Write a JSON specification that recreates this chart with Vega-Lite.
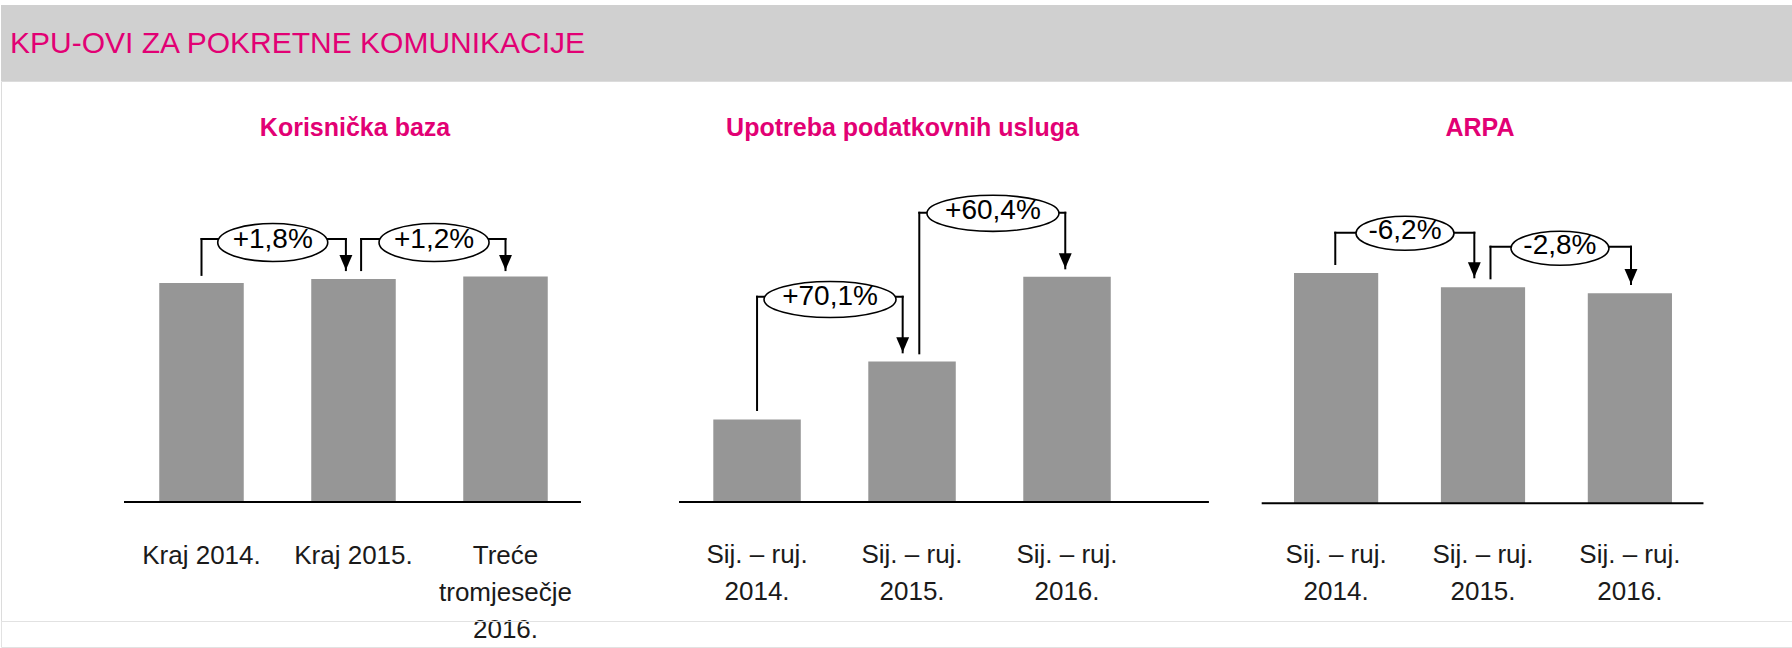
{
  "$schema": "https://vega.github.io/schema/vega-lite/v6.json",
  "padding": {"top": 5, "left": 0, "right": 0, "bottom": 0},
  "background": "white",
  "bounds": "flush",
  "spacing": 0,
  "config": {"font": "Liberation Sans", "view": {"stroke": null}},
  "datasets": {
    "bars": [
      {"panel": 1, "cat": "Kraj 2014.", "value": 100},
      {"panel": 1, "cat": "Kraj 2015.", "value": 101.8},
      {"panel": 1, "cat": "Treće\ntromjesečje\n2016.", "value": 103.0},
      {"panel": 2, "cat": "Sij. – ruj.\n2014.", "value": 100},
      {"panel": 2, "cat": "Sij. – ruj.\n2015.", "value": 170.1},
      {"panel": 2, "cat": "Sij. – ruj.\n2016.", "value": 272.8},
      {"panel": 3, "cat": "Sij. – ruj.\n2014.", "value": 100},
      {"panel": 3, "cat": "Sij. – ruj.\n2015.", "value": 93.8},
      {"panel": 3, "cat": "Sij. – ruj.\n2016.", "value": 91.2}
    ],
    "heads": [
      {"panel": 1, "at": "Kraj 2015.", "first": "Kraj 2014.", "last": "Treće\ntromjesečje\n2016.", "title": "Korisnička baza"},
      {"panel": 2, "at": "Sij. – ruj.\n2015.", "first": "Sij. – ruj.\n2014.", "last": "Sij. – ruj.\n2016.", "title": "Upotreba podatkovnih usluga"},
      {"panel": 3, "at": "Sij. – ruj.\n2015.", "first": "Sij. – ruj.\n2014.", "last": "Sij. – ruj.\n2016.", "title": "ARPA"}
    ],
    "notes": [
      {"panel": 1, "id": 1, "from": "Kraj 2014.", "to": "Kraj 2015.", "pct": "+1,8%", "start": 103.7, "level": 120.1, "end": 105.9, "center": 118.5},
      {"panel": 1, "id": 2, "from": "Kraj 2015.", "to": "Treće\ntromjesečje\n2016.", "pct": "+1,2%", "start": 105.9, "level": 120.1, "end": 105.9, "center": 118.5},
      {"panel": 2, "id": 1, "from": "Sij. – ruj.\n2014.", "to": "Sij. – ruj.\n2015.", "pct": "+70,1%", "start": 111.4, "level": 248.5, "end": 181.2, "center": 245.2},
      {"panel": 2, "id": 2, "from": "Sij. – ruj.\n2015.", "to": "Sij. – ruj.\n2016.", "pct": "+60,4%", "start": 180.0, "level": 350.2, "end": 282.9, "center": 349.5},
      {"panel": 3, "id": 1, "from": "Sij. – ruj.\n2014.", "to": "Sij. – ruj.\n2015.", "pct": "-6,2%", "start": 103.95, "level": 117.55, "end": 98.18, "center": 117.29},
      {"panel": 3, "id": 2, "from": "Sij. – ruj.\n2015.", "to": "Sij. – ruj.\n2016.", "pct": "-2,8%", "start": 97.74, "level": 111.47, "end": 95.26, "center": 110.77}
    ]
  },
  "vconcat": [
    {
      "width": 1792,
      "height": 76,
      "view": {"fill": "#d0d0d0", "stroke": null},
      "data": {"values": [{}]},
      "mark": {"type": "rect", "color": "#d0d0d0"},
      "title": {"text": "KPU-OVI ZA POKRETNE KOMUNIKACIJE", "anchor": "start", "frame": "group", "orient": "top", "offset": -78, "dx": 9, "font": "Liberation Sans", "fontSize": 30, "fontWeight": "normal", "color": "#e20074", "baseline": "alphabetic"}
    },
    {
      "width": 1792,
      "height": 540,
      "view": {"stroke": "#dcdcdc", "fill": "white"},
      "resolve": {"scale": {"x": "independent", "y": "independent"}},
      "layer": [
        {
          "layer": [
            {
              "data": {"name": "bars"},
              "transform": [{"filter": "datum.panel == 1"}],
              "layer": [
                {"mark": {"type": "bar", "color": "#969696"},
                 "encoding": {
                   "x": {"field": "cat", "type": "nominal", "axis": null, "sort": null, "scale": {"domain": ["Kraj 2014.", "Kraj 2015.", "Treće\ntromjesečje\n2016."], "range": [124.5, 580.5], "paddingInner": 0.444, "paddingOuter": 0.222, "align": 0.5, "round": false}},
                   "y": {"field": "value", "type": "quantitative", "axis": null, "scale": {"domain": [-54.34, 192.24], "nice": false}},
                   "y2": {"datum": 0}}},
                {"mark": {"type": "text", "align": "center", "baseline": "alphabetic", "lineBreak": "\n", "lineHeight": 37, "fontSize": 26, "color": "#1a1a1a"},
                 "encoding": {
                   "x": {"field": "cat", "type": "nominal"},
                   "y": {"datum": -28.3},
                   "text": {"field": "cat"}}}
              ]
            },
            {
              "data": {"name": "heads"},
              "transform": [{"filter": "datum.panel == 1"}],
              "layer": [
                {"mark": {"type": "rule", "color": "black", "strokeWidth": 2},
                 "encoding": {
                   "x": {"field": "first", "type": "nominal", "bandPosition": -0.417},
                   "x2": {"field": "last", "type": "nominal", "bandPosition": 1.393},
                   "y": {"datum": 0}}},
                {"mark": {"type": "text", "fontWeight": "bold", "fontSize": 25, "color": "#e20074", "align": "center", "baseline": "alphabetic"},
                 "encoding": {"x": {"field": "at", "type": "nominal", "bandPosition": 0.518}, "y": {"datum": 167.35}, "text": {"field": "title"}}}
              ]
            },
            {
              "data": {"name": "notes"},
              "transform": [{"filter": "datum.panel == 1 && datum.id == 1"}],
              "layer": [
                {"mark": {"type": "rule", "color": "black", "strokeWidth": 2, "strokeCap": "square"}, "encoding": {"x": {"field": "from", "type": "nominal", "bandPosition": 0.5}, "y": {"field": "start", "type": "quantitative"}, "y2": {"field": "level"}}},
                {"mark": {"type": "rule", "color": "black", "strokeWidth": 2, "strokeCap": "square"}, "encoding": {"x": {"field": "from", "type": "nominal", "bandPosition": 0.5}, "x2": {"field": "to", "type": "nominal", "bandPosition": 0.41}, "y": {"field": "level", "type": "quantitative"}}},
                {"mark": {"type": "rule", "color": "black", "strokeWidth": 2, "strokeCap": "square"}, "encoding": {"x": {"field": "to", "type": "nominal", "bandPosition": 0.41}, "y": {"field": "level", "type": "quantitative"}, "y2": {"field": "end"}}},
                {"mark": {"type": "point", "shape": "M-0.43,-1L0.43,-1L0,0Z", "size": 900, "filled": true, "color": "black", "opacity": 1, "strokeWidth": 0}, "encoding": {"x": {"field": "to", "type": "nominal", "bandPosition": 0.41}, "y": {"field": "end", "type": "quantitative"}}},
                {"mark": {"type": "point", "shape": "M-1,0A1,0.345,0,1,1,1,0A1,0.345,0,1,1,-1,0Z", "size": 12100, "fill": "white", "stroke": "black", "strokeWidth": 1.6, "opacity": 1}, "encoding": {"x": {"field": "from", "type": "nominal", "bandPosition": 1.343}, "y": {"field": "center", "type": "quantitative"}}},
                {"mark": {"type": "text", "fontSize": 28, "dy": -2, "align": "center", "baseline": "middle", "color": "black"}, "encoding": {"x": {"field": "from", "type": "nominal", "bandPosition": 1.343}, "y": {"field": "center", "type": "quantitative"}, "text": {"field": "pct"}}}
              ]
            },
            {
              "data": {"name": "notes"},
              "transform": [{"filter": "datum.panel == 1 && datum.id == 2"}],
              "layer": [
                {"mark": {"type": "rule", "color": "black", "strokeWidth": 2, "strokeCap": "square"}, "encoding": {"x": {"field": "from", "type": "nominal", "bandPosition": 0.59}, "y": {"field": "start", "type": "quantitative"}, "y2": {"field": "level"}}},
                {"mark": {"type": "rule", "color": "black", "strokeWidth": 2, "strokeCap": "square"}, "encoding": {"x": {"field": "from", "type": "nominal", "bandPosition": 0.59}, "x2": {"field": "to", "type": "nominal", "bandPosition": 0.5}, "y": {"field": "level", "type": "quantitative"}}},
                {"mark": {"type": "rule", "color": "black", "strokeWidth": 2, "strokeCap": "square"}, "encoding": {"x": {"field": "to", "type": "nominal", "bandPosition": 0.5}, "y": {"field": "level", "type": "quantitative"}, "y2": {"field": "end"}}},
                {"mark": {"type": "point", "shape": "M-0.43,-1L0.43,-1L0,0Z", "size": 900, "filled": true, "color": "black", "opacity": 1, "strokeWidth": 0}, "encoding": {"x": {"field": "to", "type": "nominal", "bandPosition": 0.5}, "y": {"field": "end", "type": "quantitative"}}},
                {"mark": {"type": "point", "shape": "M-1,0A1,0.345,0,1,1,1,0A1,0.345,0,1,1,-1,0Z", "size": 12100, "fill": "white", "stroke": "black", "strokeWidth": 1.6, "opacity": 1}, "encoding": {"x": {"field": "from", "type": "nominal", "bandPosition": 1.453}, "y": {"field": "center", "type": "quantitative"}}},
                {"mark": {"type": "text", "fontSize": 28, "dy": -2, "align": "center", "baseline": "middle", "color": "black"}, "encoding": {"x": {"field": "from", "type": "nominal", "bandPosition": 1.453}, "y": {"field": "center", "type": "quantitative"}, "text": {"field": "pct"}}}
              ]
            }
          ]
        },
        {
          "layer": [
            {
              "data": {"name": "bars"},
              "transform": [{"filter": "datum.panel == 2"}],
              "layer": [
                {"mark": {"type": "bar", "color": "#969696"},
                 "encoding": {
                   "x": {"field": "cat", "type": "nominal", "axis": null, "sort": null, "scale": {"domain": ["Sij. – ruj.\n2014.", "Sij. – ruj.\n2015.", "Sij. – ruj.\n2016."], "range": [678.5, 1208], "paddingInner": 0.4355, "paddingOuter": 0.426, "align": 0.256, "round": false}},
                   "y": {"field": "value", "type": "quantitative", "axis": null, "scale": {"domain": [-144.07, 509.69], "nice": false}},
                   "y2": {"datum": 0}}},
                {"mark": {"type": "text", "align": "center", "baseline": "alphabetic", "lineBreak": "\n", "lineHeight": 37, "fontSize": 26, "color": "#1a1a1a"},
                 "encoding": {
                   "x": {"field": "cat", "type": "nominal"},
                   "y": {"datum": -74.21},
                   "text": {"field": "cat"}}}
              ]
            },
            {
              "data": {"name": "heads"},
              "transform": [{"filter": "datum.panel == 2"}],
              "layer": [
                {"mark": {"type": "rule", "color": "black", "strokeWidth": 2},
                 "encoding": {
                   "x": {"field": "first", "type": "nominal", "bandPosition": -0.392},
                   "x2": {"field": "last", "type": "nominal", "bandPosition": 2.122},
                   "y": {"datum": 0}}},
                {"mark": {"type": "text", "fontWeight": "bold", "fontSize": 25, "color": "#e20074", "align": "center", "baseline": "alphabetic"},
                 "encoding": {"x": {"field": "at", "type": "nominal", "bandPosition": 0.391}, "y": {"datum": 443.7}, "text": {"field": "title"}}}
              ]
            },
            {
              "data": {"name": "notes"},
              "transform": [{"filter": "datum.panel == 2 && datum.id == 1"}],
              "layer": [
                {"mark": {"type": "rule", "color": "black", "strokeWidth": 2, "strokeCap": "square"}, "encoding": {"x": {"field": "from", "type": "nominal", "bandPosition": 0.5}, "y": {"field": "start", "type": "quantitative"}, "y2": {"field": "level"}}},
                {"mark": {"type": "rule", "color": "black", "strokeWidth": 2, "strokeCap": "square"}, "encoding": {"x": {"field": "from", "type": "nominal", "bandPosition": 0.5}, "x2": {"field": "to", "type": "nominal", "bandPosition": 0.393}, "y": {"field": "level", "type": "quantitative"}}},
                {"mark": {"type": "rule", "color": "black", "strokeWidth": 2, "strokeCap": "square"}, "encoding": {"x": {"field": "to", "type": "nominal", "bandPosition": 0.393}, "y": {"field": "level", "type": "quantitative"}, "y2": {"field": "end"}}},
                {"mark": {"type": "point", "shape": "M-0.43,-1L0.43,-1L0,0Z", "size": 900, "filled": true, "color": "black", "opacity": 1, "strokeWidth": 0}, "encoding": {"x": {"field": "to", "type": "nominal", "bandPosition": 0.393}, "y": {"field": "end", "type": "quantitative"}}},
                {"mark": {"type": "point", "shape": "M-1,0A1,0.273,0,1,1,1,0A1,0.273,0,1,1,-1,0Z", "size": 17424, "fill": "white", "stroke": "black", "strokeWidth": 1.6, "opacity": 1}, "encoding": {"x": {"field": "from", "type": "nominal", "bandPosition": 1.334}, "y": {"field": "center", "type": "quantitative"}}},
                {"mark": {"type": "text", "fontSize": 28, "dy": -2, "align": "center", "baseline": "middle", "color": "black"}, "encoding": {"x": {"field": "from", "type": "nominal", "bandPosition": 1.334}, "y": {"field": "center", "type": "quantitative"}, "text": {"field": "pct"}}}
              ]
            },
            {
              "data": {"name": "notes"},
              "transform": [{"filter": "datum.panel == 2 && datum.id == 2"}],
              "layer": [
                {"mark": {"type": "rule", "color": "black", "strokeWidth": 2, "strokeCap": "square"}, "encoding": {"x": {"field": "from", "type": "nominal", "bandPosition": 0.583}, "y": {"field": "start", "type": "quantitative"}, "y2": {"field": "level"}}},
                {"mark": {"type": "rule", "color": "black", "strokeWidth": 2, "strokeCap": "square"}, "encoding": {"x": {"field": "from", "type": "nominal", "bandPosition": 0.583}, "x2": {"field": "to", "type": "nominal", "bandPosition": 0.48}, "y": {"field": "level", "type": "quantitative"}}},
                {"mark": {"type": "rule", "color": "black", "strokeWidth": 2, "strokeCap": "square"}, "encoding": {"x": {"field": "to", "type": "nominal", "bandPosition": 0.48}, "y": {"field": "level", "type": "quantitative"}, "y2": {"field": "end"}}},
                {"mark": {"type": "point", "shape": "M-0.43,-1L0.43,-1L0,0Z", "size": 900, "filled": true, "color": "black", "opacity": 1, "strokeWidth": 0}, "encoding": {"x": {"field": "to", "type": "nominal", "bandPosition": 0.48}, "y": {"field": "end", "type": "quantitative"}}},
                {"mark": {"type": "point", "shape": "M-1,0A1,0.273,0,1,1,1,0A1,0.273,0,1,1,-1,0Z", "size": 17424, "fill": "white", "stroke": "black", "strokeWidth": 1.6, "opacity": 1}, "encoding": {"x": {"field": "from", "type": "nominal", "bandPosition": 1.425}, "y": {"field": "center", "type": "quantitative"}}},
                {"mark": {"type": "text", "fontSize": 28, "dy": -2, "align": "center", "baseline": "middle", "color": "black"}, "encoding": {"x": {"field": "from", "type": "nominal", "bandPosition": 1.425}, "y": {"field": "center", "type": "quantitative"}, "text": {"field": "pct"}}}
              ]
            }
          ]
        },
        {
          "layer": [
            {
              "data": {"name": "bars"},
              "transform": [{"filter": "datum.panel == 3"}],
              "layer": [
                {"mark": {"type": "bar", "color": "#969696"},
                 "encoding": {
                   "x": {"field": "cat", "type": "nominal", "axis": null, "sort": null, "scale": {"domain": ["Sij. – ruj.\n2014.", "Sij. – ruj.\n2015.", "Sij. – ruj.\n2016."], "range": [1261, 1703], "paddingInner": 0.4268, "paddingOuter": 0.218, "align": 0.5, "round": false}},
                   "y": {"field": "value", "type": "quantitative", "axis": null, "scale": {"domain": [-51.13, 183.45], "nice": false}},
                   "y2": {"datum": 0}}},
                {"mark": {"type": "text", "align": "center", "baseline": "alphabetic", "lineBreak": "\n", "lineHeight": 37, "fontSize": 26, "color": "#1a1a1a"},
                 "encoding": {
                   "x": {"field": "cat", "type": "nominal"},
                   "y": {"datum": -26.15},
                   "text": {"field": "cat"}}}
              ]
            },
            {
              "data": {"name": "heads"},
              "transform": [{"filter": "datum.panel == 3"}],
              "layer": [
                {"mark": {"type": "rule", "color": "black", "strokeWidth": 2},
                 "encoding": {
                   "x": {"field": "first", "type": "nominal", "bandPosition": -0.384},
                   "x2": {"field": "last", "type": "nominal", "bandPosition": 1.374},
                   "y": {"datum": 0}}},
                {"mark": {"type": "text", "fontWeight": "bold", "fontSize": 25, "color": "#e20074", "align": "center", "baseline": "alphabetic"},
                 "encoding": {"x": {"field": "at", "type": "nominal", "bandPosition": 0.464}, "y": {"datum": 159.77}, "text": {"field": "title"}}}
              ]
            },
            {
              "data": {"name": "notes"},
              "transform": [{"filter": "datum.panel == 3 && datum.id == 1"}],
              "layer": [
                {"mark": {"type": "rule", "color": "black", "strokeWidth": 2, "strokeCap": "square"}, "encoding": {"x": {"field": "from", "type": "nominal", "bandPosition": 0.49}, "y": {"field": "start", "type": "quantitative"}, "y2": {"field": "level"}}},
                {"mark": {"type": "rule", "color": "black", "strokeWidth": 2, "strokeCap": "square"}, "encoding": {"x": {"field": "from", "type": "nominal", "bandPosition": 0.49}, "x2": {"field": "to", "type": "nominal", "bandPosition": 0.397}, "y": {"field": "level", "type": "quantitative"}}},
                {"mark": {"type": "rule", "color": "black", "strokeWidth": 2, "strokeCap": "square"}, "encoding": {"x": {"field": "to", "type": "nominal", "bandPosition": 0.397}, "y": {"field": "level", "type": "quantitative"}, "y2": {"field": "end"}}},
                {"mark": {"type": "point", "shape": "M-0.43,-1L0.43,-1L0,0Z", "size": 900, "filled": true, "color": "black", "opacity": 1, "strokeWidth": 0}, "encoding": {"x": {"field": "to", "type": "nominal", "bandPosition": 0.397}, "y": {"field": "end", "type": "quantitative"}}},
                {"mark": {"type": "point", "shape": "M-1,0A1,0.347,0,1,1,1,0A1,0.347,0,1,1,-1,0Z", "size": 9604, "fill": "white", "stroke": "black", "strokeWidth": 1.6, "opacity": 1}, "encoding": {"x": {"field": "from", "type": "nominal", "bandPosition": 1.318}, "y": {"field": "center", "type": "quantitative"}}},
                {"mark": {"type": "text", "fontSize": 28, "dy": -2, "align": "center", "baseline": "middle", "color": "black"}, "encoding": {"x": {"field": "from", "type": "nominal", "bandPosition": 1.318}, "y": {"field": "center", "type": "quantitative"}, "text": {"field": "pct"}}}
              ]
            },
            {
              "data": {"name": "notes"},
              "transform": [{"filter": "datum.panel == 3 && datum.id == 2"}],
              "layer": [
                {"mark": {"type": "rule", "color": "black", "strokeWidth": 2, "strokeCap": "square"}, "encoding": {"x": {"field": "from", "type": "nominal", "bandPosition": 0.589}, "y": {"field": "start", "type": "quantitative"}, "y2": {"field": "level"}}},
                {"mark": {"type": "rule", "color": "black", "strokeWidth": 2, "strokeCap": "square"}, "encoding": {"x": {"field": "from", "type": "nominal", "bandPosition": 0.589}, "x2": {"field": "to", "type": "nominal", "bandPosition": 0.513}, "y": {"field": "level", "type": "quantitative"}}},
                {"mark": {"type": "rule", "color": "black", "strokeWidth": 2, "strokeCap": "square"}, "encoding": {"x": {"field": "to", "type": "nominal", "bandPosition": 0.513}, "y": {"field": "level", "type": "quantitative"}, "y2": {"field": "end"}}},
                {"mark": {"type": "point", "shape": "M-0.43,-1L0.43,-1L0,0Z", "size": 900, "filled": true, "color": "black", "opacity": 1, "strokeWidth": 0}, "encoding": {"x": {"field": "to", "type": "nominal", "bandPosition": 0.513}, "y": {"field": "end", "type": "quantitative"}}},
                {"mark": {"type": "point", "shape": "M-1,0A1,0.347,0,1,1,1,0A1,0.347,0,1,1,-1,0Z", "size": 9604, "fill": "white", "stroke": "black", "strokeWidth": 1.6, "opacity": 1}, "encoding": {"x": {"field": "from", "type": "nominal", "bandPosition": 1.414}, "y": {"field": "center", "type": "quantitative"}}},
                {"mark": {"type": "text", "fontSize": 28, "dy": -2, "align": "center", "baseline": "middle", "color": "black"}, "encoding": {"x": {"field": "from", "type": "nominal", "bandPosition": 1.414}, "y": {"field": "center", "type": "quantitative"}, "text": {"field": "pct"}}}
              ]
            }
          ]
        }
      ]
    },
    {
      "width": 1792,
      "height": 26,
      "view": {"stroke": "#e2e2e2", "fill": null},
      "data": {"values": [{}]},
      "mark": {"type": "rect", "opacity": 0}
    }
  ]
}
